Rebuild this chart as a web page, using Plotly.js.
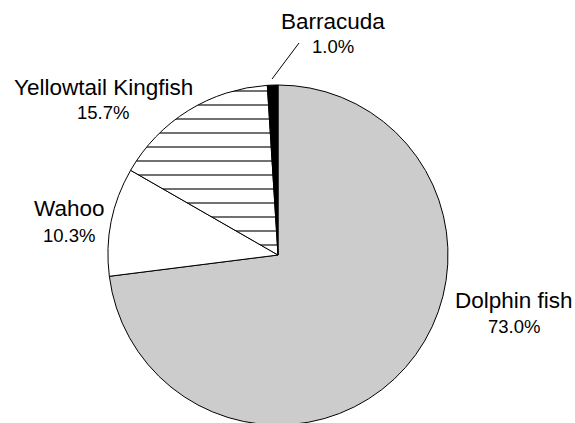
<!DOCTYPE html>
<html>
<head>
<meta charset="utf-8">
<script src="https://cdn.plot.ly/plotly-3.0.1.min.js"></script>
<style>
html, body { margin: 0; padding: 0; overflow: hidden; background: #fff; }
#chart { width: 575px; height: 430px; }
</style>
</head>
<body>
<div id="chart"></div>
<script>
const categories = ['Dolphin fish', 'Wahoo', 'Yellowtail Kingfish', 'Barracuda'];
const values = [73.0, 10.3, 15.7, 1.0];
const sliceColors = ['#cccccc', '#ffffff', '#ffffff', '#000000'];
const slicePatterns = ['', '', '-', ''];

const W = 575, H = 430;
// label positions in pixels (centre x, centre y of the label line; percent line below)
const labelPos = {
  'Dolphin fish': [514, 300, 326],
  'Wahoo': [69, 209, 235],
  'Yellowtail Kingfish': [103, 87, 113],
  'Barracuda': [333, 21, 46]
};

const px = x => x / W;
const py = y => 1 - y / H;

const annotations = [];
categories.forEach((c, i) => {
  const p = labelPos[c];
  annotations.push({
    x: px(p[0]), y: py(p[1]), xref: 'paper', yref: 'paper',
    text: c, showarrow: false, xanchor: 'center', yanchor: 'middle',
    font: { family: 'Liberation Sans, Arial, sans-serif', size: 22.5, color: '#000' }
  });
  annotations.push({
    x: px(p[0]), y: py(p[2]), xref: 'paper', yref: 'paper',
    text: values[i].toFixed(1) + '%', showarrow: false, xanchor: 'center', yanchor: 'middle',
    font: { family: 'Liberation Sans, Arial, sans-serif', size: 18.5, color: '#000' }
  });
});

const data = [{
  type: 'pie',
  labels: categories,
  values: values,
  sort: false,
  direction: 'clockwise',
  rotation: 0,
  textinfo: 'none',
  hoverinfo: 'none',
  showlegend: false,
  domain: { x: [108 / W, 448 / W], y: [py(425), py(85)] },
  marker: {
    colors: sliceColors,
    line: { color: '#000', width: 1 },
    pattern: { shape: slicePatterns, fgcolor: '#000', bgcolor: '#ffffff', size: 14, solidity: 0.08 }
  }
}];

const layout = {
  width: W, height: H,
  margin: { l: 0, r: 0, t: 0, b: 0 },
  paper_bgcolor: '#fff',
  annotations: annotations,
  shapes: [{
    type: 'line', xref: 'paper', yref: 'paper',
    x0: px(272), y0: py(79), x1: px(299), y1: py(43),
    line: { color: '#000', width: 1 }
  }]
};

Plotly.newPlot('chart', data, layout, { staticPlot: true, displayModeBar: false });
</script>
</body>
</html>
